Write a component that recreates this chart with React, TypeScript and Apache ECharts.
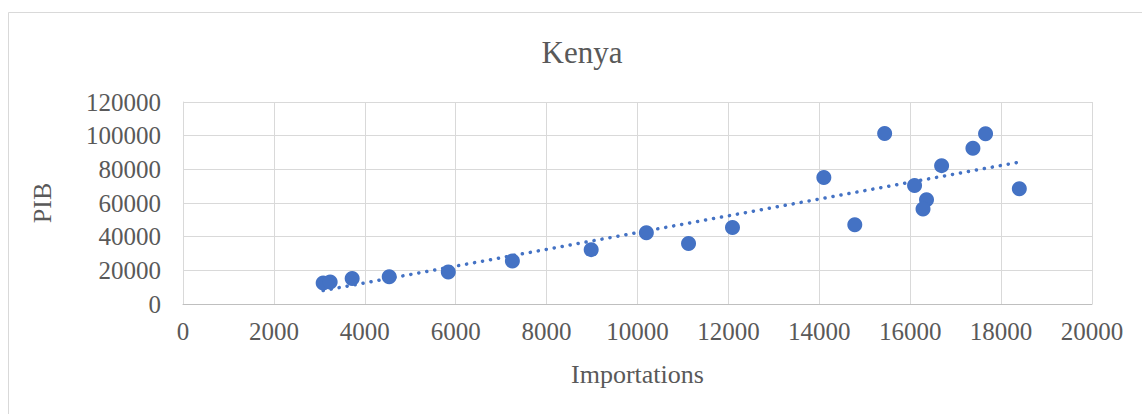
import React, { useEffect, useRef } from "react";
import * as echarts from "echarts";

const chartTitle = "Kenya";
const xAxisName = "Importations";
const yAxisName = "PIB";

const importations = [
  3084, 3238, 3722, 4537, 5837, 7247, 8981, 10195, 11123, 12090,
  14100, 14781, 15438, 16096, 16359, 16282, 16691, 17380, 17658, 18401,
];
const pib = [
  12500, 13100, 15200, 16200, 19000, 25600, 32300, 42300, 35900, 45500,
  75200, 47100, 101300, 70400, 62000, 56400, 82200, 92500, 101100, 68400,
];

function linearTrend(xs: number[], ys: number[]) {
  const n = xs.length;
  const mx = xs.reduce((a, b) => a + b, 0) / n;
  const my = ys.reduce((a, b) => a + b, 0) / n;
  let sxy = 0;
  let sxx = 0;
  for (let i = 0; i < n; i++) {
    sxy += (xs[i] - mx) * (ys[i] - my);
    sxx += (xs[i] - mx) * (xs[i] - mx);
  }
  const slope = sxy / sxx;
  const intercept = my - slope * mx;
  const x0 = Math.min(...xs);
  const x1 = Math.max(...xs);
  return [
    [x0, intercept + slope * x0],
    [x1, intercept + slope * x1],
  ];
}

export default function App() {
  const ref = useRef<HTMLDivElement>(null);
  useEffect(() => {
    if (!ref.current) return;
    const chart = echarts.init(ref.current, undefined, { renderer: "svg" });
    const font = "'Liberation Serif', 'Times New Roman', serif";
    const textColor = "#595959";
    const gridColor = "#d9d9d9";
    const blue = "#4472C4";
    const plain = (v: number) => String(v);
    chart.setOption({
      animation: false,
      backgroundColor: "#ffffff",
      grid: { left: 183, top: 102, right: 50, bottom: 110, containLabel: false },
      graphic: [
        {
          type: "rect",
          shape: { x: 8.5, y: 12.5, width: 1160, height: 420 },
          style: { fill: "none", stroke: gridColor, lineWidth: 1 },
          silent: true,
        },
        {
          type: "text",
          x: 582,
          y: 52,
          style: {
            text: chartTitle,
            font: `31px ${font}`,
            fill: textColor,
            textAlign: "center",
            textVerticalAlign: "middle",
          },
        },
      ],
      xAxis: {
        type: "value",
        min: 0,
        max: 20000,
        interval: 2000,
        name: xAxisName,
        nameLocation: "middle",
        nameGap: 57,
        nameTextStyle: { fontFamily: font, fontSize: 26, color: textColor },
        axisLine: { show: true, lineStyle: { color: "#bfbfbf", width: 1 } },
        axisTick: { show: false },
        axisLabel: { fontFamily: font, fontSize: 25, color: textColor, margin: 15, formatter: plain },
        splitLine: { show: true, lineStyle: { color: gridColor, width: 1 } },
      },
      yAxis: {
        type: "value",
        min: 0,
        max: 120000,
        interval: 20000,
        name: yAxisName,
        nameLocation: "middle",
        nameGap: 128,
        nameRotate: 90,
        nameTextStyle: { fontFamily: font, fontSize: 26, color: textColor },
        axisLine: { show: true, lineStyle: { color: gridColor, width: 1 } },
        axisTick: { show: false },
        axisLabel: { fontFamily: font, fontSize: 25, color: textColor, margin: 22, formatter: plain },
        splitLine: { show: true, lineStyle: { color: gridColor, width: 1 } },
      },
      series: [
        {
          type: "scatter",
          data: importations.map((x, i) => [x, pib[i]]),
          symbol: "circle",
          symbolSize: 15,
          itemStyle: { color: blue, opacity: 1 },
          z: 3,
        },
        {
          type: "line",
          data: linearTrend(importations, pib),
          showSymbol: false,
          symbol: "none",
          lineStyle: { color: blue, width: 3.5, type: [0.1, 8], cap: "round" },
          z: 2,
          silent: true,
        },
      ],
    });
    return () => chart.dispose();
  }, []);
  return (
    <div
      ref={ref}
      style={{ position: "absolute", left: 0, top: 0, width: 1142, height: 414 }}
    />
  );
}
